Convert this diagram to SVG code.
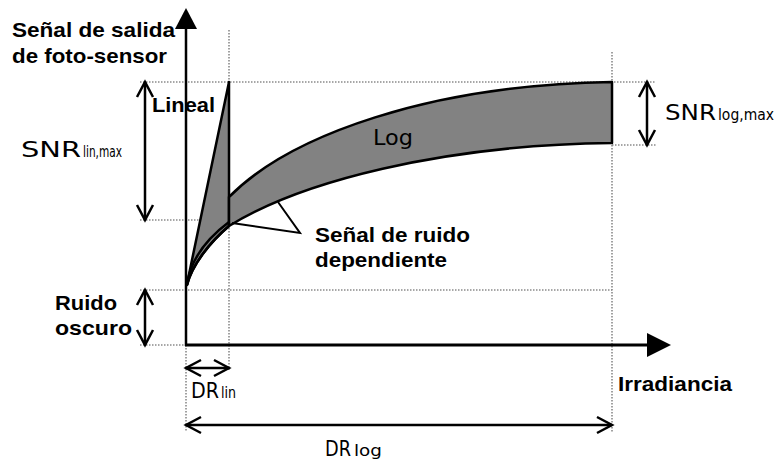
<svg xmlns="http://www.w3.org/2000/svg" width="777" height="463" viewBox="0 0 777 463">
<style>
.guide{stroke:#8a8a8a;stroke-width:1.6;stroke-dasharray:1.5 1.5;fill:none}
.axis{stroke:#000;fill:none}
.dim{stroke:#000;stroke-width:2.5;fill:none;marker-start:url(#chev);marker-end:url(#chev)}
.band{fill:#828282;stroke:#000;stroke-width:2.5;stroke-linejoin:round}
.curve{fill:none;stroke:#000;stroke-width:2.5}
.call{fill:none;stroke:#000;stroke-width:2}
.b{font-family:"Liberation Sans",Arial,sans-serif;font-weight:bold;font-size:21px;fill:#000}
.g{font-family:"DejaVu Sans","Liberation Sans",sans-serif;fill:#000}
</style>
<defs>
<marker id="chev" markerUnits="userSpaceOnUse" markerWidth="20" markerHeight="20" viewBox="-16 -10 18 20" refX="0" refY="0" orient="auto-start-reverse">
<path d="M -15 -8 L 0 0 L -15 8" fill="none" stroke="#000" stroke-width="2.5"/>
</marker>
</defs>
<g id="guides">
<line class="guide" x1="140" y1="82" x2="656" y2="82"/>
<line class="guide" x1="140" y1="220" x2="229" y2="220"/>
<line class="guide" x1="612" y1="145" x2="656" y2="145"/>
<line class="guide" x1="140" y1="290" x2="612" y2="290"/>
<line class="guide" x1="140" y1="345" x2="186" y2="345"/>
<line class="guide" x1="229" y1="30" x2="229" y2="370"/>
<line class="guide" x1="612" y1="52" x2="612" y2="432"/>
<line class="guide" x1="186" y1="345" x2="186" y2="432"/>
</g>
<g id="axes">
<line class="axis" x1="186" y1="346" x2="186" y2="26" stroke-width="2.5"/>
<path d="M 186 8 L 197 29 L 175 29 Z" fill="#000"/>
<line class="axis" x1="185" y1="345" x2="650" y2="345" stroke-width="3"/>
<path d="M 671 345 L 647 333 L 647 357 Z" fill="#000"/>
</g>
<g id="lineal">
<path class="band" d="M 187 284 L 229 82 L 229 226 C 210 242 192 265 187 285 Z"/>
<path class="curve" d="M 187 285 C 190 262 205 240 229 222"/>
</g>
<g id="log">
<path class="band" d="M 229 197 C 290 135 430 85 612 82 L 612 143 C 440 145 300 182 229 226 Z"/>
<path class="curve" d="M 187 285 C 192 265 210 242 229 226"/>
</g>
<g id="connectors">
<line class="dim" x1="145" y1="82" x2="145" y2="220"/>
<line class="dim" x1="145" y1="290" x2="145" y2="345"/>
<line class="dim" x1="647" y1="82" x2="647" y2="145"/>
<line class="dim" x1="186" y1="368" x2="229" y2="368"/>
<line class="dim" x1="186" y1="425" x2="612" y2="425" stroke-width="3"/>
<path class="call" d="M 278 202 L 300 233 L 232 223"/>
</g>
<g id="labels">
<text class="b" x="12" y="37" textLength="163" lengthAdjust="spacingAndGlyphs">Señal de salida</text>
<text class="b" x="12" y="63" textLength="155" lengthAdjust="spacingAndGlyphs">de foto-sensor</text>
<text class="b" x="152" y="112" textLength="63" lengthAdjust="spacingAndGlyphs">Lineal</text>
<text class="b" x="315" y="242" textLength="155" lengthAdjust="spacingAndGlyphs">Señal de ruido</text>
<text class="b" x="315" y="267" textLength="132" lengthAdjust="spacingAndGlyphs">dependiente</text>
<text class="b" x="55" y="310" textLength="62" lengthAdjust="spacingAndGlyphs">Ruido</text>
<text class="b" x="55" y="335" textLength="77" lengthAdjust="spacingAndGlyphs">oscuro</text>
<text class="b" x="618" y="391" textLength="114" lengthAdjust="spacingAndGlyphs">Irradiancia</text>
<text class="g" x="21" y="157" font-size="21" textLength="60" lengthAdjust="spacingAndGlyphs">SNR</text>
<text class="g" x="83" y="157" font-size="15" textLength="39" lengthAdjust="spacingAndGlyphs">lin,max</text>
<text class="g" x="665" y="120" font-size="22" textLength="51" lengthAdjust="spacingAndGlyphs">SNR</text>
<text class="g" x="718" y="120" font-size="15" textLength="56" lengthAdjust="spacingAndGlyphs">log,max</text>
<text class="g" x="373" y="145" font-size="22" textLength="40" lengthAdjust="spacingAndGlyphs">Log</text>
<text class="g" x="191" y="398" font-size="21" textLength="28" lengthAdjust="spacingAndGlyphs">DR</text>
<text class="g" x="221" y="398" font-size="15" textLength="15" lengthAdjust="spacingAndGlyphs">lin</text>
<text class="g" x="325" y="456" font-size="21" textLength="26" lengthAdjust="spacingAndGlyphs">DR</text>
<text class="g" x="354" y="456" font-size="15" textLength="28" lengthAdjust="spacingAndGlyphs">log</text>
</g>
</svg>
